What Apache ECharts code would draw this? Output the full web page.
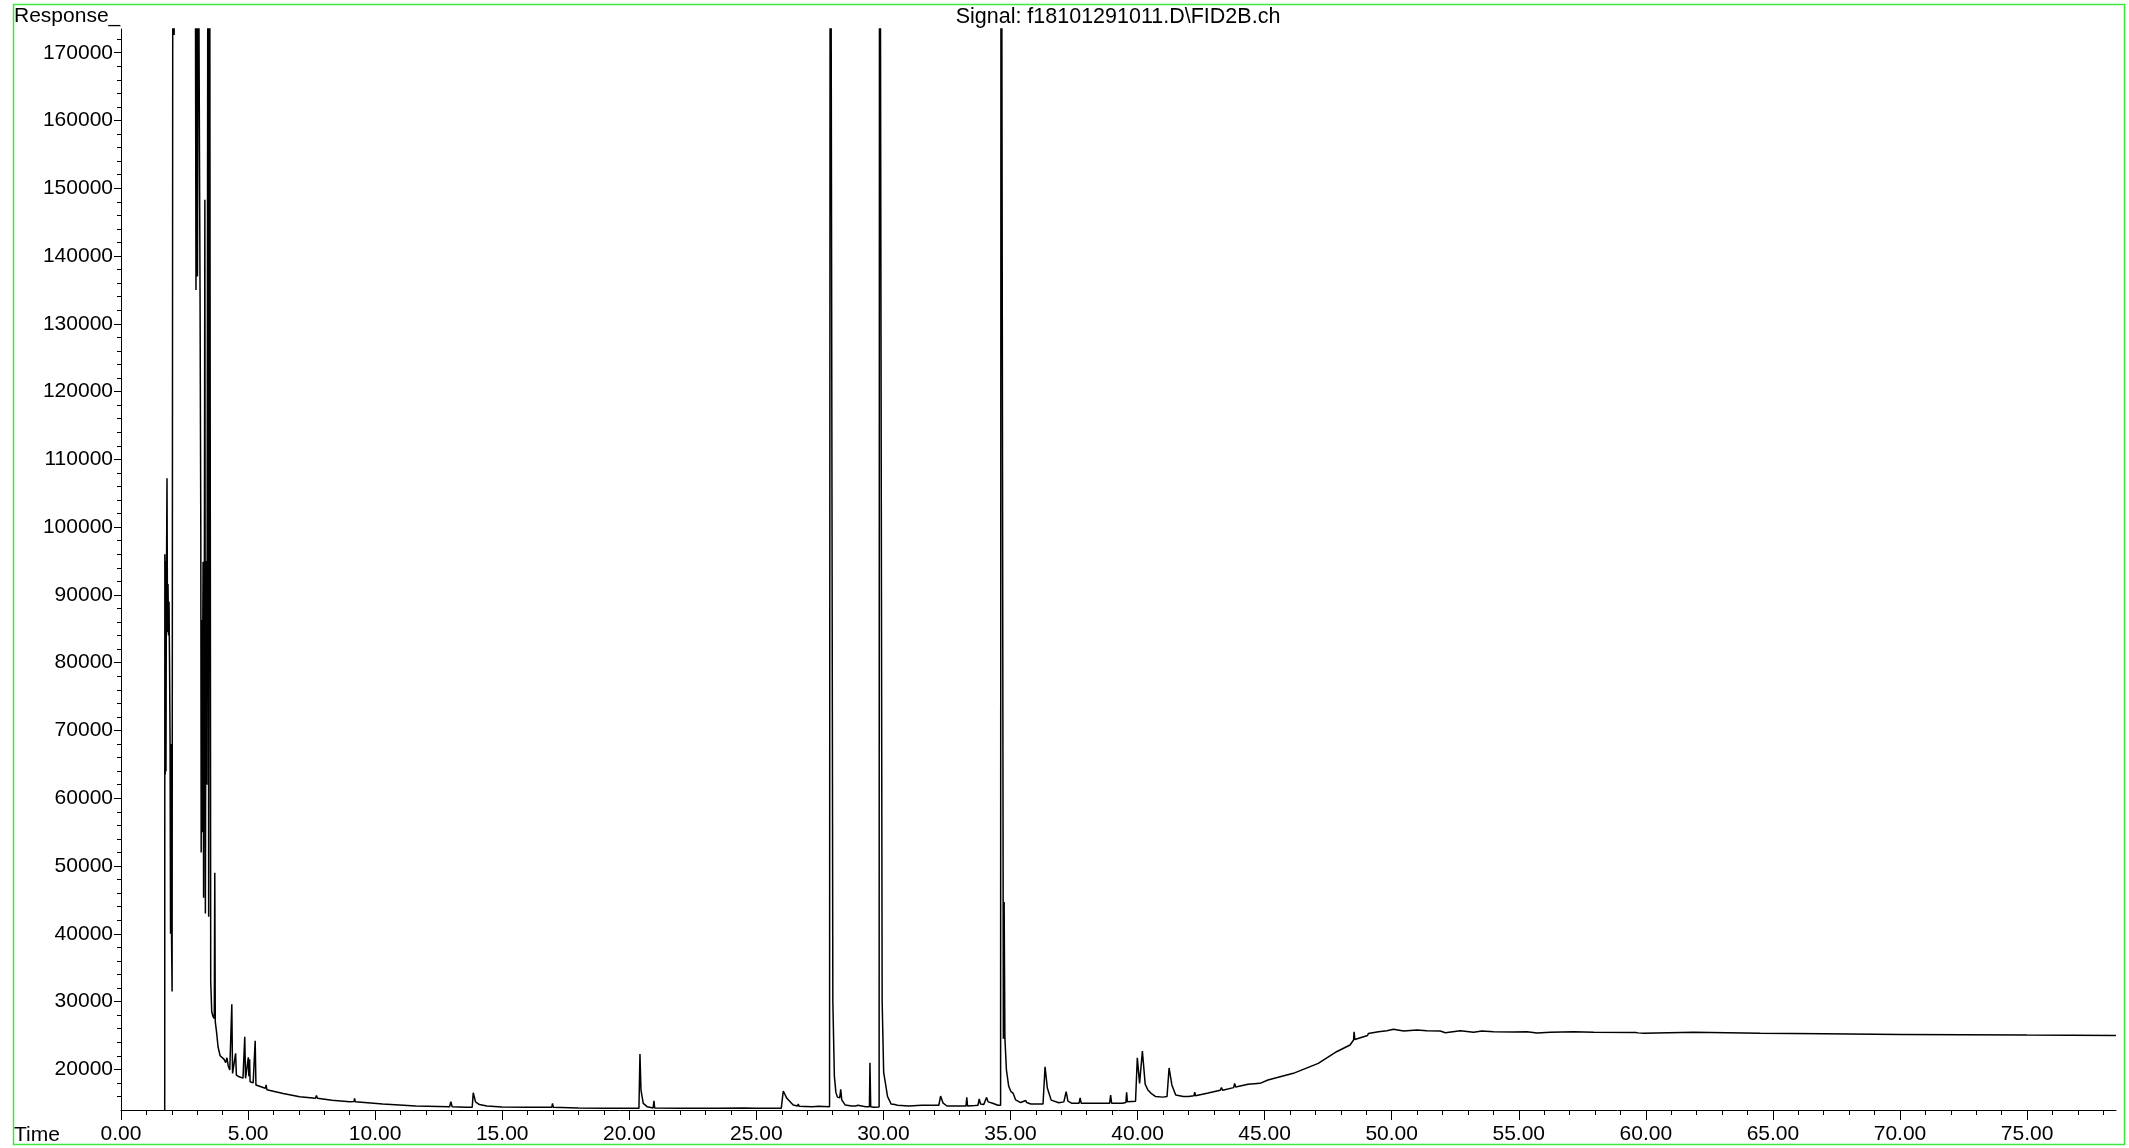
<!DOCTYPE html>
<html><head><meta charset="utf-8">
<script src="https://cdn.jsdelivr.net/npm/echarts@6/dist/echarts.min.js"></script>
<style>html,body{margin:0;padding:0;background:#fff;}#c{width:2129px;height:1148px;}</style>
</head><body><div id="c"></div>
<script>
// ---- data: [time (min), response] ----
const solventTrace = [
[1.72,14000],[1.725,96000],[1.74,63500],[1.755,95000],[1.77,64000],[1.785,90000],[1.81,107200],[1.83,84500],
[1.85,91600],[1.87,84000],[1.89,89000],[1.91,80000],[1.93,68500],[1.95,40000],[1.97,68000],[1.99,39000],
[2.01,31500],[2.04,200000],[2.09,172600],[2.13,200000],[2.92,200000],[2.95,135000],[2.98,200000],[3.01,137000],
[3.04,200000],[3.08,200000],[3.11,135000],[3.14,100000],[3.155,52000],[3.17,86300],[3.19,55000],[3.21,78000],
[3.23,94900],[3.25,45300],[3.28,90000],[3.30,148300],[3.32,43000],[3.35,95000],[3.38,62000],[3.42,200000],
[3.45,42500],[3.49,200000],[3.53,33000],[3.57,28500],[3.62,27800],[3.67,27500],[3.69,49000],[3.71,27000],
[3.76,25500],[3.82,23300],[3.90,22000],[3.96,21800],[4.05,21500],[4.12,21000],[4.17,21700],[4.22,20500],
[4.28,19900],[4.36,29600],[4.39,19400],[4.45,19600],[4.51,22360],[4.54,19160],[4.65,18900],[4.80,18700],
[4.87,24800],[4.90,18670],[4.95,18900],[5.01,21770],[5.03,19000],[5.06,21500],[5.08,18170],[5.20,18000],
[5.28,24220],[5.31,17680],[5.45,17500],[5.68,17200],[5.71,17700],[5.74,17000]
];
const midTrace = [
[6.38,16450],[7.03,15960],[7.65,15750],[7.69,16150],[7.73,15720],[8.3,15450],[9.0,15220],[9.17,15250],
[9.19,15700],[9.22,15200],[10.3,14880],[11.6,14580],[12.93,14480],[12.98,15220],[13.03,14480],[13.6,14400],
[13.82,14400],[13.86,16550],[13.95,15200],[14.1,14800],[14.4,14580],[15.0,14450],[16.0,14400],[16.95,14390],
[16.98,14980],[17.01,14390],[18.0,14300],[19.0,14250],[20.38,14240],[20.42,22260],[20.46,16940],[20.55,14980],
[20.7,14490],[20.94,14300],[20.97,15360],[21.0,14300],[22.0,14250],[23.5,14240],[24.5,14300],[25.0,14250],
[25.98,14240],[26.06,16800],[26.2,15720],[26.45,14730],[26.62,14600],[26.65,14900],[26.68,14550],[27.2,14490],
[27.45,14550],[27.5,14490],[27.88,14490],[27.91,250000],[27.98,250000],[28.01,30000],[28.07,19000],[28.13,16600],
[28.19,15900],[28.28,15800],[28.32,17050],[28.36,15500],[28.5,14730],[28.75,14600],[28.8,14800],[28.9,14600],
[29.0,14700],[29.3,14490],[29.45,14490],[29.47,20980],[29.50,14490],[29.62,14400],[29.83,14450],[29.85,250000],
[29.92,250000],[29.95,30000],[30.01,19500],[30.09,17700],[30.13,17800],[30.16,16000],[30.3,14900],[30.45,14800],
[30.5,15000],[30.55,14700],[31.0,14600],[31.5,14700],[32.0,14700],[32.18,14700],[32.25,16060],[32.35,15000],
[32.5,14590],[33.0,14590],[33.25,14590],[33.28,15860],[33.31,14600],[33.6,14650],[33.72,14700],[33.77,15620],
[33.82,14900],[33.95,14800],[34.06,15860],[34.12,15200],[34.3,15000],[34.5,14700],[34.61,14700]
];
const lateTrace = [
[34.63,250000],[34.69,250000],[34.72,24500],[34.75,44700],[34.78,24600],[34.84,19900],[34.93,17500],[35.02,16700],
[35.1,16500],[35.2,15500],[35.4,15100],[35.6,15400],[35.64,15100],[35.8,14880],[36.28,14880],[36.36,20380],
[36.45,17240],[36.6,15460],[36.9,15070],[37.1,15200],[37.19,16700],[37.26,15300],[37.4,15000],[37.7,15000],
[37.74,15800],[37.78,15000],[38.5,14980],[38.9,14980],[38.94,16200],[38.98,15000],[39.4,15000],[39.54,15100],
[39.57,16600],[39.6,15200],[39.92,15300],[39.99,21700],[40.08,17930],[40.19,22700],[40.30,17800],[40.40,17000],
[40.46,17280],[40.52,16500],[40.7,16000],[41.0,15900],[41.16,16000],[41.24,20200],[41.35,17700],[41.5,16200],
[41.8,16000],[42.0,16000],[42.22,16100],[42.25,16650],[42.28,16100],[42.78,16500],[43.25,16900],[43.30,17300],
[43.35,16900],[43.78,17300],[43.82,17930],[43.86,17400],[44.35,17800],[44.82,17930],[45.13,18420],[46.13,19410],
[47.11,20886],[47.83,22600],[48.36,23590],[48.50,24330],[48.52,25550],[48.55,24400],[49.05,25000],[49.08,25300],
[49.1,25050],[49.48,25556],[49.81,25704],[50.07,25901],[50.47,25655],[50.99,25803],[51.38,25704],[51.91,25655],
[52.11,25409],[52.70,25704],[53.22,25458],[53.55,25655],[54.01,25556],[54.80,25507],[55.32,25556],[55.72,25360],
[56.24,25458],[57.16,25556],[57.95,25458],[59.6,25420],[59.65,25704],[59.7,25380],[59.91,25310],[61.88,25458],
[64.50,25310],[67.0,25250],[70.0,25150],[72.5,25100],[75.0,25050],[78.5,25000]
];
const xMajorTicks = [0,5,10,15,20,25,30,35,40,45,50,55,60,65,70,75];
const xMinorTicks = [1,2,3,4,6,7,8,9,11,12,13,14,16,17,18,19,21,22,23,24,26,27,28,29,31,32,33,34,36,37,38,39,41,42,43,44,46,47,48,49,51,52,53,54,56,57,58,59,61,62,63,64,66,67,68,69,71,72,73,74,76,77,78];
const yMajorTicks = [20000,30000,40000,50000,60000,70000,80000,90000,100000,110000,120000,130000,140000,150000,160000,170000];
const yMinorTicks = [16000,18000,22000,24000,26000,28000,32000,34000,36000,38000,42000,44000,46000,48000,52000,54000,56000,58000,62000,64000,66000,68000,72000,74000,76000,78000,82000,84000,86000,88000,92000,94000,96000,98000,102000,104000,106000,108000,112000,114000,116000,118000,122000,124000,126000,128000,132000,134000,136000,138000,142000,144000,146000,148000,152000,154000,156000,158000,162000,164000,166000,168000,172000];
const titleText = 'Signal: f18101291011.D\\FID2B.ch';

const trace = solventTrace.concat(midTrace, lateTrace);
const FONT = '"Liberation Sans", Arial, sans-serif';
const chart = echarts.init(document.getElementById('c'));
const axisCommon = {type:'value', splitLine:{show:false}};
chart.setOption({
  animation:false,
  backgroundColor:'#fff',
  grid:{left:121, right:13, top:29, bottom:38, containLabel:false},
  xAxis:[
    Object.assign({}, axisCommon, {min:0, max:78.5,
      axisLine:{lineStyle:{color:'#000', width:1}},
      axisTick:{customValues:xMajorTicks, length:10, lineStyle:{color:'#000'}},
      axisLabel:{customValues:xMajorTicks, formatter:v=>Number(v).toFixed(2), margin:14, fontSize:21, color:'#000', fontFamily:FONT}}),
    Object.assign({}, axisCommon, {min:0, max:78.5, position:'bottom',
      axisLine:{show:false},
      axisTick:{customValues:xMinorTicks, length:5, lineStyle:{color:'#000'}},
      axisLabel:{show:false}})
  ],
  yAxis:[
    Object.assign({}, axisCommon, {min:14000, max:173500,
      axisLine:{show:true, lineStyle:{color:'#000', width:1}},
      axisTick:{show:true, customValues:yMajorTicks, length:7, lineStyle:{color:'#000'}},
      axisLabel:{customValues:yMajorTicks, formatter:v=>String(v), margin:8, fontSize:21, color:'#000', fontFamily:FONT}}),
    Object.assign({}, axisCommon, {min:14000, max:173500, position:'left',
      axisLine:{show:false},
      axisTick:{show:true, customValues:yMinorTicks, length:4, lineStyle:{color:'#000'}},
      axisLabel:{show:false}})
  ],
  series:[{type:'line', data:trace, xAxisIndex:0, yAxisIndex:0, symbol:'none', showSymbol:false,
    clip:true, lineStyle:{color:'#000', width:1.5}}],
  graphic:[
    {type:'rect', shape:{x:13.5, y:4.5, width:2111, height:1140}, style:{fill:null, stroke:'#3ee83e', lineWidth:1.5}, silent:true},
    {type:'text', x:14, y:16, style:{text:'Response_', fontSize:21, fontFamily:FONT, fill:'#000', textVerticalAlign:'middle'}},
    {type:'text', x:1118, y:17, style:{text:titleText, fontSize:21.5, fontFamily:FONT, fill:'#000', textAlign:'center', textVerticalAlign:'middle'}},
    {type:'text', x:14, y:1135, style:{text:'Time', fontSize:21, fontFamily:FONT, fill:'#000', textVerticalAlign:'middle'}}
  ]
});
</script></body></html>
